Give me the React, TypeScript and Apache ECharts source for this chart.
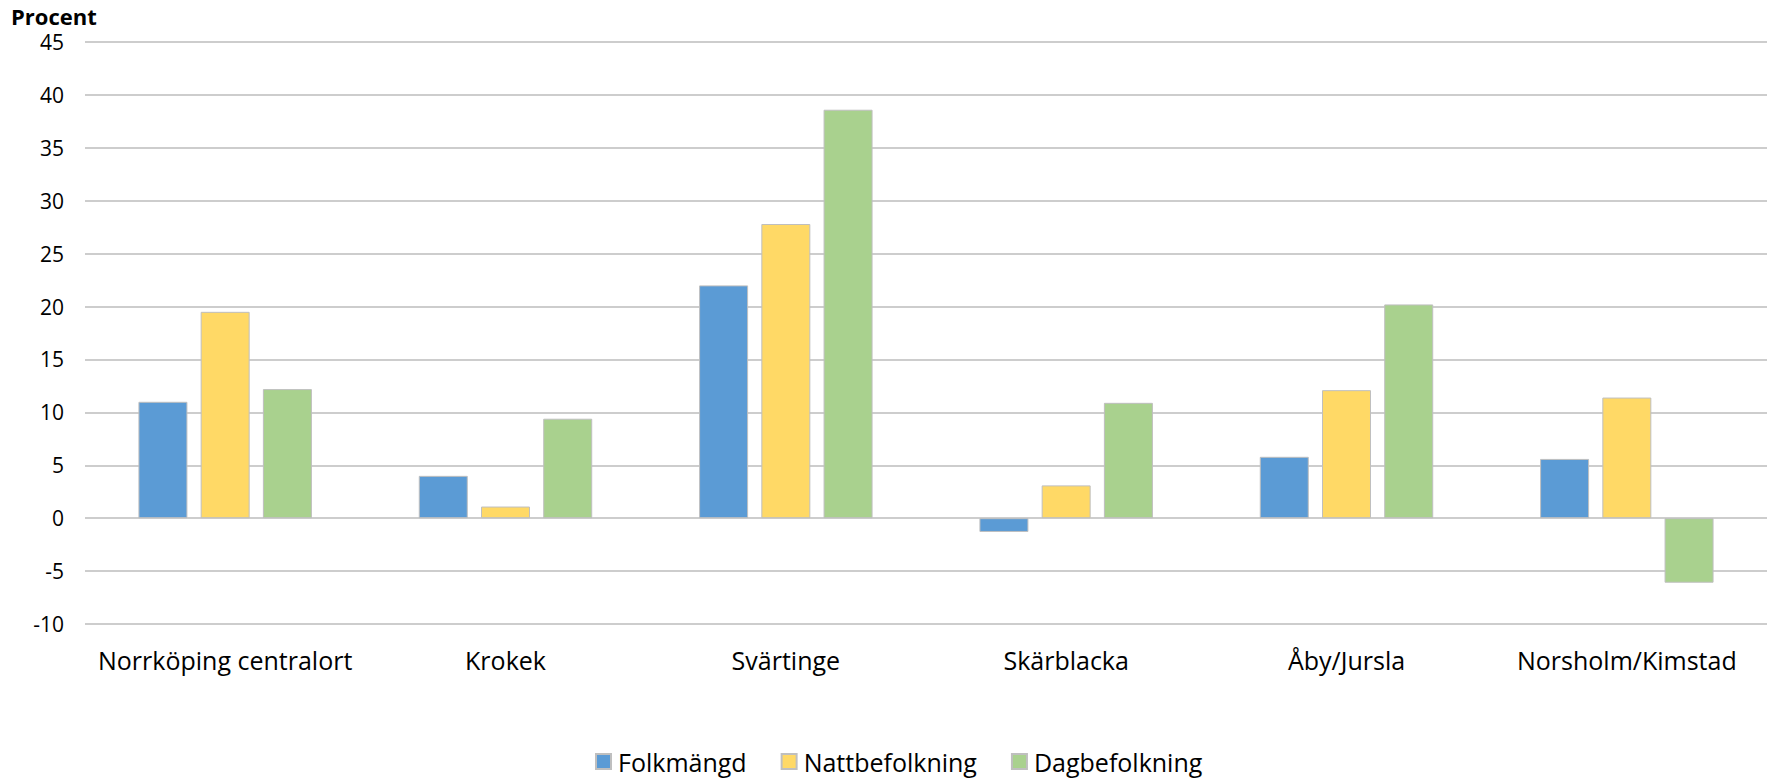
import React, { useEffect, useRef } from "react";
import * as echarts from "echarts";

const categories = [
  "Norrköping centralort",
  "Krokek",
  "Svärtinge",
  "Skärblacka",
  "Åby/Jursla",
  "Norsholm/Kimstad",
];
const folkmangd = [11.0, 4.0, 22.0, -1.3, 5.8, 5.6];
const nattbefolkning = [19.5, 1.1, 27.8, 3.1, 12.1, 11.4];
const dagbefolkning = [12.2, 9.4, 38.6, 10.9, 20.2, -6.1];
const seriesNames = ["Folkmängd", "Nattbefolkning", "Dagbefolkning"];
const colors = ["#5B9BD5", "#FFD966", "#A9D18E"];
const yMin = -10;
const yMax = 45;
const yStep = 5;

const FONT = "'Open Sans', 'Noto Sans', sans-serif";

export default function App() {
  const ref = useRef<HTMLDivElement>(null);
  useEffect(() => {
    if (!ref.current) return;
    const chart = echarts.init(ref.current, undefined, { renderer: "svg" });
    const data = [folkmangd, nattbefolkning, dagbefolkning];
    chart.setOption({
      animation: false,
      backgroundColor: "#ffffff",
      textStyle: { fontFamily: FONT },
      title: {
        text: "Procent",
        left: 11,
        top: 5,
        padding: 0,
        textStyle: { fontFamily: FONT, fontSize: 22, fontWeight: "bold", color: "#000" },
      },
      legend: {
        bottom: 6,
        left: 595,
        padding: 0,
        itemWidth: 15,
        itemHeight: 15,
        itemGap: 34,
        icon: "rect",
        textStyle: { fontFamily: FONT, fontSize: 25, color: "#000", padding: [0, 0, 0, 2] },
        data: seriesNames,
      },
      grid: { left: 85, right: 3, top: 42, bottom: 156, containLabel: false },
      xAxis: {
        type: "category",
        data: categories,
        axisLine: { show: false },
        axisTick: { show: false },
        axisLabel: { fontFamily: FONT, fontSize: 25, color: "#000", margin: 23, interval: 0 },
        position: "bottom",
      },
      yAxis: {
        type: "value",
        min: yMin,
        max: yMax,
        interval: yStep,
        axisLine: { show: false },
        axisTick: { show: false },
        axisLabel: { fontFamily: FONT, fontSize: 21, color: "#000", margin: 21 },
        splitLine: { lineStyle: { color: "#BDBDBD", width: 1.6 } },
      },
      series: data.map((d, i) => ({
        name: seriesNames[i],
        type: "bar",
        data: d,
        barWidth: 49,
        barGap: "27%",
        itemStyle: { color: colors[i], borderColor: "#BFBFBF", borderWidth: 1 },
      })),
    });
    return () => chart.dispose();
  }, []);
  return (
    <div
      ref={ref}
      style={{ position: "fixed", left: 0, top: 0, width: 1770, height: 780 }}
    />
  );
}
